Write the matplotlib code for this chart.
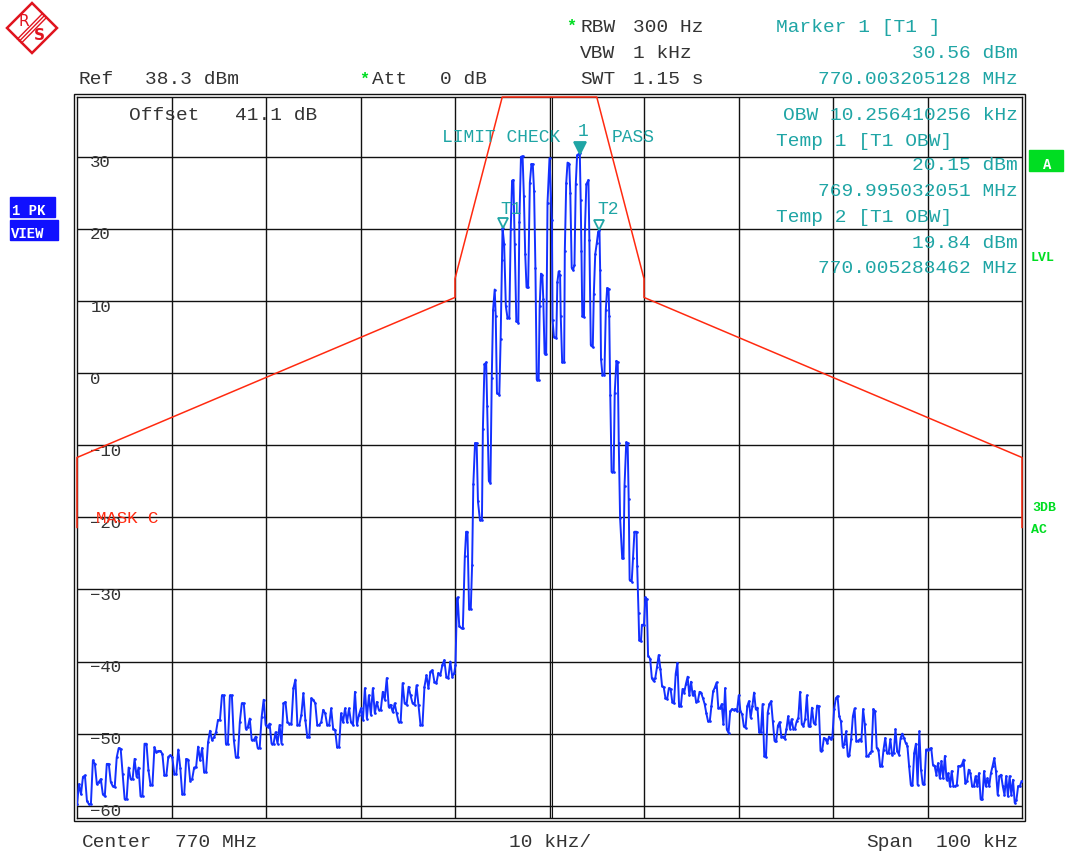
import numpy as np
import matplotlib
matplotlib.use('Agg')
import matplotlib.pyplot as plt
from matplotlib.patches import Rectangle, Polygon
from matplotlib.transforms import offset_copy

# ---------------- data ----------------
ref_level = 38.3
span_khz = [-50.0, 50.0]
y_grid_vals = [30, 20, 10, 0, -10, -20, -30, -40, -50, -60]
y_grid_labels = ['30', '20', '10', '0', '\u221210', '\u221220', '\u221230', '\u221240', '\u221250', '\u221260']
x_grid_vals = [-40, -30, -20, -10, 0, 10, 20, 30, 40]

left_range = [-50.0, -10.08]
left_db = [-59.8, -57.0, -58.4, -56.0, -55.8, -59.3, -59.8, -59.8, -53.7, -54.2, -57.0, -56.7, -56.3, -58.4,
           -58.7, -54.2, -54.2, -56.7, -57.3, -57.4, -53.3, -52.0, -52.1, -55.6, -59.1, -59.1, -54.7, -56.3,
           -56.3, -53.5, -56.0, -54.7, -58.7, -58.6, -51.4, -51.4, -55.1, -57.1, -57.1, -51.9, -52.6, -52.4,
           -52.4, -52.8, -55.8, -55.8, -53.2, -53.0, -53.3, -55.6, -55.6, -52.2, -54.7, -58.4, -58.4, -53.5,
           -53.6, -56.5, -56.3, -54.7, -54.6, -51.8, -53.7, -52.0, -55.3, -55.3, -51.2, -49.6, -50.9, -50.5,
           -49.8, -48.1, -48.1, -44.7, -44.7, -51.4, -51.4, -44.7, -44.7, -50.9, -53.3, -53.3, -48.4, -45.8,
           -45.8, -49.3, -49.1, -47.9, -50.9, -50.9, -50.4, -52.0, -52.0, -47.7, -45.3, -48.8, -49.1, -48.6,
           -51.4, -51.4, -49.8, -51.4, -48.8, -51.4, -45.8, -45.6, -48.4, -48.6, -48.6, -43.7, -42.5, -48.8,
           -48.8, -47.4, -44.4, -48.1, -50.5, -50.5, -45.1, -45.3, -45.8, -48.8, -48.8, -48.4, -46.7, -47.2,
           -48.8, -48.8, -46.5, -49.3, -49.5, -51.9, -51.8, -47.2, -48.4, -46.5, -48.4, -46.5, -48.4, -48.8,
           -44.2, -48.8, -47.4, -46.5, -48.1, -43.7, -47.9, -44.7, -47.4, -43.7, -47.2, -45.6, -46.7, -46.7,
           -44.2, -45.3, -42.3, -46.3, -46.0, -47.0, -45.8, -47.2, -48.4, -48.4, -43.0, -45.8, -46.0, -43.5,
           -44.7, -45.8, -46.0, -43.3, -46.0, -48.8, -48.8, -43.5, -41.9, -43.7, -41.4, -41.2, -42.8, -43.0,
           -41.6, -41.9, -40.5, -39.8, -42.1, -42.3, -40.0, -42.1, -41.6]

main_freq = [-9.95, -9.79, -9.72, -9.55, -9.31, -9.17, -8.96, -8.82, -8.68, -8.51, -8.33, -8.19, -8.06, -7.88,
             -7.71, -7.57, -7.36, -7.15, -7.05, -6.88, -6.70, -6.60, -6.42, -6.25, -6.11, -5.97, -5.80, -5.69,
             -5.56, -5.31, -5.17, -5.03, -4.97, -4.80, -4.62, -4.45, -4.25, -4.10, -3.96, -3.82, -3.68, -3.51,
             -3.30, -3.19, -3.02, -2.85, -2.71, -2.57, -2.43, -2.26, -2.08, -1.91, -1.77, -1.63, -1.49, -1.35,
             -1.15, -1.04, -0.90, -0.76, -0.66, -0.52, -0.35, -0.21, 0.0, 0.25, 0.32, 0.47, 0.72, 0.83, 0.97,
             1.12, 1.19, 1.34, 1.55, 1.62, 1.77, 1.91, 2.09, 2.20, 2.35, 2.49, 2.64, 2.78, 2.92, 3.07, 3.205,
             3.30, 3.38, 3.47, 3.65, 3.75, 3.90, 4.12, 4.22, 4.37, 4.58, 4.69, 4.84, 5.00, 5.15, 5.288, 5.36,
             5.45, 5.60, 5.81, 5.96, 6.10, 6.25, 6.32, 6.43, 6.57, 6.79, 6.90, 7.08, 7.22, 7.33, 7.47, 7.69,
             7.83, 7.94, 8.12, 8.27, 8.38, 8.48, 8.70, 8.84, 8.99, 9.21, 9.28, 9.42, 9.49, 9.68, 9.78, 10.0,
             10.14, 10.29, 10.43, 10.65]
main_db = [-40.5, -31.3, -31.1, -35.1, -35.4, -35.4, -25.4, -22.0, -22.0, -32.7, -32.7, -26.6, -15.4, -9.7,
           -9.7, -17.8, -20.4, -20.4, -7.8, 1.2, 1.5, -4.5, -14.9, -15.2, -0.7, 8.8, 11.6, 7.9,
           -2.8, -3.0, 4.8, 15.7, 20.15, 17.9, 9.3, 7.7, 7.7, 20.0, 26.7, 26.8, 17.9, 7.2,
           7.0, 21.0, 30.0, 30.1, 24.5, 16.5, 11.9, 11.9, 26.4, 29.0, 29.0, 25.2, 14.6, -0.9,
           -1.0, 9.3, 13.8, 13.6, 10.3, 2.7, 2.7, 23.6, 29.8, 21.2, 7.4, 5.0, 4.9, 12.6, 14.1,
           13.6, 7.9, 1.5, 1.5, 16.9, 26.4, 29.2, 29.0, 25.0, 14.6, 14.3, 15.0, 26.2, 30.2, 30.4, 30.56,
           24.0, 17.0, 7.9, 7.8, 20.0, 26.2, 26.8, 18.4, 3.9, 3.6, 11.0, 16.5, 18.0, 19.6, 19.84, 14.3,
           2.0, -0.2, -0.2, 8.8, 11.8, 11.7, 7.9, -3.0, -13.7, -13.7, -2.8, 1.7, 1.5, -9.7, -20.1, -25.6,
           -25.6, -15.6, -9.6, -9.7, -17.5, -28.7, -28.9, -25.6, -22.0, -22.0, -26.8, -33.2, -37.0, -37.2, -34.9, -34.9,
           -31.1, -31.3, -39.2, -39.6]

right_range = [10.83, 49.95]
right_db = [-42.3, -42.7, -42.3, -40.8, -39.1, -41.0, -43.4, -43.6, -45.1, -45.2, -43.7, -43.8, -45.6, -45.8,
            -41.7, -40.2, -46.2, -46.2, -43.8, -44.3, -43.1, -42.1, -44.7, -42.8, -44.7, -44.1, -45.6, -45.5,
            -44.2, -44.4, -45.1, -45.9, -47.2, -48.3, -48.3, -46.1, -44.1, -43.6, -42.9, -46.4, -46.5, -45.9,
            -48.7, -43.7, -49.4, -49.9, -46.9, -46.6, -46.7, -46.6, -46.9, -44.7, -46.9, -47.3, -49.0, -49.2,
            -46.2, -45.5, -47.8, -46.2, -44.3, -46.6, -46.4, -49.8, -49.8, -45.9, -53.1, -53.2, -47.1, -45.9,
            -45.5, -48.3, -51.0, -51.0, -48.9, -48.4, -50.4, -50.4, -50.7, -49.4, -47.6, -49.3, -48.0, -49.3,
            -49.3, -48.3, -47.8, -44.2, -48.7, -48.9, -48.0, -44.7, -49.0, -49.0, -46.4, -48.5, -48.7, -46.1,
            -46.2, -52.4, -52.3, -50.6, -50.8, -51.3, -50.4, -50.8, -50.4, -46.6, -45.1, -44.8, -47.6, -48.3,
            -51.8, -51.5, -49.7, -53.1, -52.9, -50.8, -47.6, -46.5, -51.0, -51.0, -50.8, -51.0, -46.6, -48.7,
            -53.1, -53.1, -52.7, -52.4, -46.6, -46.9, -52.0, -52.2, -54.5, -54.5, -52.2, -50.6, -52.7, -52.7,
            -50.8, -52.9, -52.7, -49.4, -52.4, -52.9, -50.6, -50.0, -50.6, -51.3, -51.7, -54.5, -57.1, -57.1,
            -52.7, -51.4, -57.1, -49.7, -55.0, -57.0, -57.0, -52.2, -52.2, -52.1, -52.0, -54.3, -54.5, -55.7,
            -54.1, -56.2, -53.8, -56.2, -53.1, -56.4, -55.5, -57.3, -55.2, -57.3, -57.3, -57.1, -54.5, -54.5,
            -54.3, -53.6, -56.9, -56.6, -55.0, -55.5, -57.3, -57.3, -55.9, -57.3, -55.5, -59.1, -59.1, -55.2,
            -57.3, -56.2, -57.3, -55.5, -54.5, -53.4, -55.2, -58.5, -55.9, -55.7, -57.3, -58.5, -55.9, -58.7,
            -55.9, -58.5, -56.4, -59.6, -59.2, -57.3, -57.3, -56.6]

mask_freq = [-50, -50, -10, -10, -5, 5, 10, 10, 50, 50]
mask_db = [-21.4, -11.7, 10.5, 13.1, 38.3, 38.3, 13.1, 10.5, -11.7, -21.4]

marker_freq = [3.205128, -4.967949, 5.288462]
marker_db = [30.56, 20.15, 19.84]
marker_filled = [True, False, False]

# ---------------- figure ----------------
W, H = 1067, 854
fig = plt.figure(figsize=(W / 100, H / 100), dpi=100)
fig.patch.set_facecolor('white')
FAM = ['Liberation Mono', 'DejaVu Sans Mono']
TXT = '#333333'
TEAL = '#1fa5a5'
GREEN = '#00dd22'
RED = '#ff2a10'
BLUE = '#1330ff'

L, R, T, B = 77, 1022, 98, 819
ax = fig.add_axes([L / W, 1 - B / H, (R - L) / W, (B - T) / H])
ax.set_xlim(span_khz[0], span_khz[1])
ax.set_ylim(ref_level - 100, ref_level)
ax.set_xticks([])
ax.set_yticks([])
for s in ax.spines.values():
    s.set_linewidth(1.0)
    s.set_color('#111111')

for v in y_grid_vals:
    ax.axhline(v, color='#111111', lw=1.0, zorder=1)
for v in x_grid_vals:
    ax.axvline(v, color='#111111', lw=1.0, zorder=1)
ax.axvline(0.25, color='#111111', lw=0.8, zorder=1)

for v, lab in zip(y_grid_vals, y_grid_labels):
    ax.text(-48.6, v + 0.35, lab, ha='left', va='top', fontsize=12.5, color=TXT, family=FAM, zorder=2)

# mask
ax.plot(mask_freq, mask_db, color=RED, lw=1.1, zorder=5, clip_on=False)

# trace
left_f = np.linspace(left_range[0], left_range[1], len(left_db))
right_f = np.linspace(right_range[0], right_range[1], len(right_db))
freq = np.concatenate([left_f, np.array(main_freq), right_f])
db = np.concatenate([np.array(left_db), np.array(main_db), np.array(right_db)])
ax.plot(freq, db, color=BLUE, lw=1.4, zorder=4, marker='.', markersize=1.8)

# markers (tip on the trace point)
ms = 8
tr = offset_copy(ax.transData, fig=fig, x=0, y=ms * 0.45, units='points')
for f, d, filled in zip(marker_freq, marker_db, marker_filled):
    ax.plot([f], [d], marker='v', markersize=ms if filled else 7, transform=tr,
            markerfacecolor=TEAL if filled else 'white', markeredgecolor=TEAL, markeredgewidth=1.3,
            zorder=6, clip_on=False)

ax.text(-48.0, -20.0, 'MASK C', color=RED, fontsize=12.5, family=FAM, ha='left', va='center', zorder=5)

# ---------------- overlay in pixel coordinates ----------------
ov = fig.add_axes([0, 0, 1, 1], zorder=10)
ov.set_xlim(0, W)
ov.set_ylim(H, 0)
ov.axis('off')
ov.patch.set_alpha(0)

# double frame
ov.add_patch(Rectangle((74, 95), 951, 727, fill=False, lw=1.0, edgecolor='#111111'))


def t(x, y, s, color=TXT, ha='left', size=14, weight='normal'):
    ov.text(x, y, s, color=color, ha=ha, va='center', fontsize=size, family=FAM, fontweight=weight)


# R&S logo
LOGO = '#e0141e'
ov.add_patch(Polygon([(32, 4), (57, 29), (32, 54), (7, 29)], closed=True, fill=False,
                     edgecolor=LOGO, lw=1.8))
for d in (-2.0, 0, 2.0):
    ov.plot([19.5 + d, 44.5 + d], [42 + d, 16.5 + d], color=LOGO, lw=1.0)
ov.text(24, 21, 'R', color=LOGO, fontsize=11, family='DejaVu Sans', ha='center', va='center')
ov.text(39, 36, 'S', color=LOGO, fontsize=11, family='DejaVu Sans', ha='center', va='center',
        fontweight='bold')

# header
t(78, 80, 'Ref')
t(145, 80, '38.3 dBm')
t(359, 79, '*', color=GREEN, size=12, weight='bold')
t(372, 80, 'Att')
t(440, 80, '0 dB')
t(566, 26, '*', color=GREEN, size=12, weight='bold')
t(580, 27, 'RBW')
t(633, 27, '300 Hz')
t(580, 53, 'VBW')
t(633, 53, '1 kHz')
t(580, 80, 'SWT')
t(633, 80, '1.15 s')

t(776, 28, 'Marker 1 [T1 ]', color=TEAL)
t(1018, 53, '30.56 dBm', color=TEAL, ha='right')
t(1018, 80, '770.003205128 MHz', color=TEAL, ha='right')
t(1018, 115, 'OBW 10.256410256 kHz', color=TEAL, ha='right')
t(776, 141, 'Temp 1 [T1 OBW]', color=TEAL)
t(1018, 166, '20.15 dBm', color=TEAL, ha='right')
t(1018, 192, '769.995032051 MHz', color=TEAL, ha='right')
t(776, 217, 'Temp 2 [T1 OBW]', color=TEAL)
t(1018, 243, '19.84 dBm', color=TEAL, ha='right')
t(1018, 269, '770.005288462 MHz', color=TEAL, ha='right')

t(129, 116, 'Offset')
t(235, 116, '41.1 dB')

t(442, 138, 'LIMIT CHECK', color=TEAL, size=13)
t(612, 138, 'PASS', color=TEAL, size=13)
t(583, 131, '1', color=TEAL, size=13, ha='center')
t(511, 209, 'T1', color=TEAL, size=13, ha='center')
t(608, 210, 'T2', color=TEAL, size=13, ha='center')

# left side boxes
ov.add_patch(Rectangle((10, 198), 45, 20, color='#1010ff'))
ov.add_patch(Rectangle((10, 221), 48, 20, color='#1010ff'))
t(12, 211, '1 PK', color='white', size=10, weight='bold')
t(11, 234, 'VIEW', color='white', size=10, weight='bold')

# right side labels
ov.add_patch(Rectangle((1029, 151), 34, 21, color=GREEN))
t(1047, 165, 'A', color='white', size=10, weight='bold', ha='center')
t(1031, 258, 'LVL', color=GREEN, size=9.5, weight='bold')
t(1032, 508, '3DB', color=GREEN, size=9.5, weight='bold')
t(1031, 530, 'AC', color=GREEN, size=9.5, weight='bold')

# bottom
t(82, 843, 'Center')
t(175, 843, '770 MHz')
t(550, 843, '10 kHz/', ha='center')
t(866, 843, 'Span')
t(1018, 843, '100 kHz', ha='right')

fig.savefig('out.png', dpi=100, facecolor='white')
